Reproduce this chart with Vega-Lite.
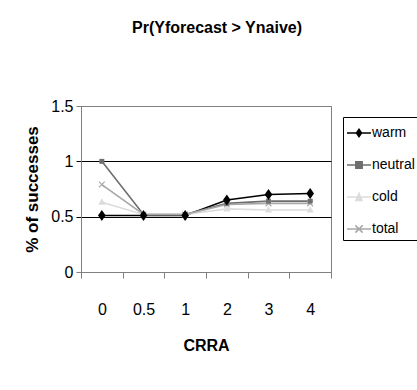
{
  "$schema": "https://vega.github.io/schema/vega-lite/v6.json",
  "autosize": "none",
  "width": 250,
  "height": 166,
  "padding": {"left": 81, "top": 106, "right": 86, "bottom": 118},
  "background": "white",
  "title": {
    "text": "Pr(Yforecast > Ynaive)",
    "font": "Liberation Sans Narrow, Arial Narrow, Liberation Sans, sans-serif",
    "fontSize": 16,
    "fontWeight": "bold",
    "color": "black",
    "anchor": "middle",
    "dx": 11,
    "offset": 62
  },
  "config": {
    "view": {"stroke": "#808080", "strokeWidth": 1},
    "axis": {
      "labelFont": "Liberation Sans Narrow, Arial Narrow, Liberation Sans, sans-serif",
      "titleFont": "Liberation Sans, Arial, sans-serif",
      "labelColor": "black",
      "titleColor": "black"
    }
  },
  "data": {
    "values": [
      {"crra": "0", "series": "warm", "value": 0.51},
      {"crra": "0.5", "series": "warm", "value": 0.51},
      {"crra": "1", "series": "warm", "value": 0.51},
      {"crra": "2", "series": "warm", "value": 0.65},
      {"crra": "3", "series": "warm", "value": 0.70},
      {"crra": "4", "series": "warm", "value": 0.71},
      {"crra": "0", "series": "neutral", "value": 1.0},
      {"crra": "0.5", "series": "neutral", "value": 0.52},
      {"crra": "1", "series": "neutral", "value": 0.52},
      {"crra": "2", "series": "neutral", "value": 0.62},
      {"crra": "3", "series": "neutral", "value": 0.64},
      {"crra": "4", "series": "neutral", "value": 0.64},
      {"crra": "0", "series": "cold", "value": 0.63},
      {"crra": "0.5", "series": "cold", "value": 0.52},
      {"crra": "1", "series": "cold", "value": 0.52},
      {"crra": "2", "series": "cold", "value": 0.57},
      {"crra": "3", "series": "cold", "value": 0.56},
      {"crra": "4", "series": "cold", "value": 0.56},
      {"crra": "0", "series": "total", "value": 0.79},
      {"crra": "0.5", "series": "total", "value": 0.52},
      {"crra": "1", "series": "total", "value": 0.52},
      {"crra": "2", "series": "total", "value": 0.61},
      {"crra": "3", "series": "total", "value": 0.62},
      {"crra": "4", "series": "total", "value": 0.62}
    ]
  },
  "encoding": {
    "x": {
      "field": "crra",
      "type": "ordinal",
      "sort": ["0", "0.5", "1", "2", "3", "4"],
      "scale": {"paddingInner": 0, "paddingOuter": 0},
      "axis": {
        "title": "CRRA",
        "labelAngle": 0,
        "labelFontSize": 16,
        "labelPadding": 23,
        "tickBand": "extent",
        "tickSize": 6,
        "tickColor": "#808080",
        "domainColor": "#808080",
        "titleFontSize": 16,
        "titleFont": "Liberation Sans Narrow, Arial Narrow, Liberation Sans, sans-serif",
        "titleFontWeight": "bold",
        "titlePadding": 20,
        "grid": false
      }
    },
    "y": {
      "field": "value",
      "type": "quantitative",
      "scale": {"domain": [0, 1.5], "nice": false},
      "axis": {
        "title": "% of successes",
        "values": [0, 0.5, 1, 1.5],
        "format": "~g",
        "labelFontSize": 16,
        "labelPadding": 3,
        "tickSize": 5,
        "tickColor": {"condition": {"test": "datum.value == 0 || datum.value == 1.5", "value": "#808080"}, "value": "black"},
        "domainColor": "#808080",
        "grid": true,
        "gridColor": {"condition": {"test": "datum.value == 0 || datum.value == 1.5", "value": "#808080"}, "value": "black"},
        "gridOpacity": 1,
        "titleFontSize": 17,
        "titleFontWeight": "bold",
        "titlePadding": 9
      }
    },
    "color": {
      "field": "series",
      "type": "nominal",
      "scale": {
        "domain": ["warm", "neutral", "cold", "total"],
        "range": ["#000000", "#6e6e6e", "#dcdcdc", "#a8a8a8"]
      },
      "legend": {
        "title": null,
        "orient": "none",
        "legendX": 262,
        "legendY": 11,
        "padding": 4,
        "strokeColor": "black",
        "fillColor": "white",
        "rowPadding": 13,
        "symbolSize": 576,
        "labelFont": "Liberation Sans Narrow, Arial Narrow, Liberation Sans, sans-serif",
        "labelFontSize": 14,
        "labelColor": "black",
        "labelOffset": 1,
        "encode": {
          "symbols": {
            "update": {
              "shape": {"signal": "datum.value === 'warm' ? 'M-1,-0.06H1V0.06H-1ZM0,-0.42L0.29,0L0,0.42L-0.29,0Z' : datum.value === 'neutral' ? 'M-1,-0.06H1V0.06H-1ZM-0.33,-0.33H0.33V0.33H-0.33Z' : datum.value === 'cold' ? 'M-1,-0.06H1V0.06H-1ZM0,-0.45L0.35,0.35L-0.35,0.35Z' : 'M-1,-0.06H1V0.06H-1ZM-0.35,-0.26L-0.26,-0.35L0.35,0.26L0.26,0.35ZM0.26,-0.35L0.35,-0.26L-0.26,0.35L-0.35,0.26Z'"},
              "size": {"value": 576},
              "fill": {"scale": "color", "field": "value"},
              "fillOpacity": {"value": 1},
              "stroke": {"value": "transparent"},
              "strokeWidth": {"value": 0}
            }
          }
        }
      }
    }
  },
  "layer": [
    {
      "mark": {"type": "line", "strokeWidth": 1.6}
    },
    {
      "transform": [{"filter": "datum.series === 'cold'"}],
      "mark": {"type": "point", "filled": true, "size": 120, "opacity": 1, "shape": "M0,-0.75L0.65,0.45L-0.65,0.45Z"}
    },
    {
      "transform": [{"filter": "datum.series === 'total'"}],
      "mark": {"type": "point", "filled": true, "size": 120, "opacity": 1, "shape": "M-0.6,-0.45L-0.45,-0.6L0.6,0.45L0.45,0.6ZM0.45,-0.6L0.6,-0.45L-0.45,0.6L-0.6,0.45Z"}
    },
    {
      "transform": [{"filter": "datum.series === 'neutral'"}],
      "mark": {"type": "point", "filled": true, "size": 120, "opacity": 1, "shape": "M-0.45,-0.45H0.45V0.45H-0.45Z"}
    },
    {
      "transform": [{"filter": "datum.series === 'warm'"}],
      "mark": {"type": "point", "filled": true, "size": 120, "opacity": 1, "shape": "M0,-1L0.7,0L0,1L-0.7,0Z"}
    }
  ]
}
